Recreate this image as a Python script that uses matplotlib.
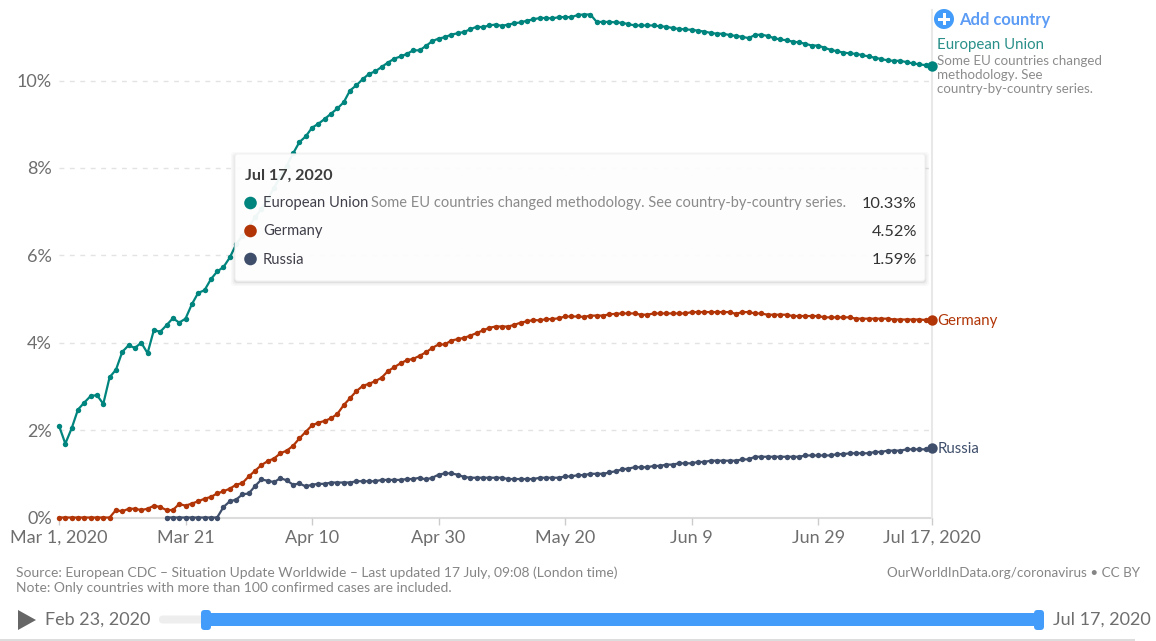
import matplotlib
matplotlib.use("Agg")
import matplotlib.pyplot as plt
from matplotlib.patches import Rectangle, FancyBboxPatch, Circle, Polygon
import pandas as pd

plt.rcParams['font.family'] = ['Lato', 'DejaVu Sans']

# ---------- data ----------
dates = pd.date_range("2020-03-01", "2020-07-17", freq="D")
russia_start = 17

eu = [2.10,1.69,2.04,2.47,2.63,2.78,2.80,2.60,3.21,3.38,
      3.79,3.94,3.88,4.00,3.76,4.29,4.25,4.40,4.56,4.46,
      4.55,4.88,5.14,5.20,5.45,5.63,5.73,5.95,6.25,6.45,
      6.65,6.87,7.06,7.28,7.55,7.80,8.05,8.33,8.59,
      8.72,8.92,9.01,9.12,9.24,9.36,9.50,9.77,9.89,10.03,
      10.15,10.21,10.31,10.41,10.50,10.55,10.61,10.69,10.69,10.79,
      10.90,10.96,10.99,11.05,11.08,11.11,11.17,11.23,11.22,11.26,
      11.28,11.25,11.28,11.31,11.33,11.37,11.40,11.43,11.43,11.42,
      11.45,11.45,11.45,11.50,11.51,11.51,11.34,11.34,11.34,11.33,
      11.32,11.29,11.26,11.26,11.26,11.26,11.24,11.23,11.20,11.18,
      11.17,11.16,11.14,11.12,11.09,11.07,11.07,11.04,11.02,11.00,
      10.97,11.04,11.05,11.02,10.97,10.94,10.92,10.89,10.87,10.84,
      10.80,10.80,10.75,10.70,10.67,10.64,10.62,10.61,10.58,10.55,
      10.52,10.49,10.46,10.45,10.45,10.42,10.39,10.37,10.35,10.33]

germany = [0,0,0,0,0,0,0,0,0,
      0.17,0.14,0.20,0.20,0.17,0.20,0.27,0.24,0.17,0.17,
      0.31,0.27,0.32,0.37,0.43,0.47,0.55,0.60,0.66,0.75,
      0.79,0.94,1.07,1.20,1.29,1.35,1.47,1.53,1.64,1.81,
      1.96,2.11,2.17,2.21,2.27,2.37,2.57,2.73,2.89,3.01,
      3.06,3.12,3.20,3.35,3.44,3.53,3.60,3.63,3.70,3.78,
      3.88,3.96,3.96,4.05,4.08,4.11,4.16,4.22,4.28,4.34,
      4.37,4.37,4.37,4.41,4.46,4.49,4.52,4.51,4.54,4.54,
      4.56,4.60,4.60,4.60,4.59,4.62,4.62,4.62,4.65,4.66,
      4.67,4.67,4.67,4.64,4.64,4.67,4.67,4.67,4.67,4.67,
      4.67,4.70,4.70,4.70,4.70,4.70,4.70,4.70,4.66,4.70,
      4.70,4.67,4.67,4.64,4.64,4.64,4.64,4.61,4.61,4.61,
      4.61,4.61,4.58,4.58,4.58,4.58,4.58,4.55,4.55,4.55,
      4.55,4.55,4.55,4.53,4.53,4.53,4.53,4.53,4.52,4.52]

russia = [0,0,0,0,0,0,0,0,0,
      0.24,0.37,0.41,0.53,0.55,0.72,0.87,0.84,0.81,0.90,
      0.85,0.75,0.78,0.71,0.75,0.77,0.77,0.80,0.80,0.80,
      0.80,0.83,0.83,0.83,0.83,0.86,0.86,0.86,0.86,0.88,
      0.88,0.91,0.87,0.91,0.98,1.01,1.01,0.98,0.93,0.91,
      0.91,0.91,0.91,0.91,0.91,0.88,0.88,0.88,0.88,0.88,
      0.91,0.91,0.91,0.91,0.94,0.94,0.97,0.97,1.00,1.00,
      1.00,1.03,1.06,1.10,1.12,1.15,1.15,1.15,1.18,1.18,
      1.21,1.21,1.24,1.24,1.24,1.27,1.27,1.30,1.30,1.30,
      1.30,1.30,1.33,1.33,1.39,1.39,1.39,1.39,1.39,1.39,
      1.39,1.39,1.42,1.42,1.42,1.42,1.42,1.45,1.45,1.47,
      1.47,1.47,1.47,1.50,1.50,1.53,1.53,1.53,1.56,1.56,
      1.56,1.56,1.59]

y_ticks = [0, 2, 4, 6, 8, 10]
y_labels = ["0%", "2%", "4%", "6%", "8%", "10%"]
x_ticks = ["2020-03-01", "2020-03-21", "2020-04-10", "2020-04-30",
           "2020-05-20", "2020-06-09", "2020-06-29", "2020-07-17"]
x_labels = ["Mar 1, 2020", "Mar 21", "Apr 10", "Apr 30", "May 20", "Jun 9", "Jun 29", "Jul 17, 2020"]

TEAL, RED, NAVY = "#00847e", "#b13507", "#3f4f6b"
GREY, BLUE = "#858585", "#439cf9"
tooltip_rows = [("European Union", "10.33%", TEAL),
                ("Germany", "4.52%", RED),
                ("Russia", "1.59%", NAVY)]

# ---------- figure and plot area ----------
W, H = 1156, 641
fig = plt.figure(figsize=(W / 100, H / 100), dpi=100, facecolor="white")
PX_L, PX_R, PX_0 = 59, 932, 517.5
PX_PER_PCT = 43.7
ax = fig.add_axes([PX_L / W, 1 - PX_0 / H, (PX_R - PX_L) / W, PX_0 / H])
ax.set_xlim(dates[0], dates[-1])
ax.set_ylim(0, PX_0 / PX_PER_PCT)
for s in ax.spines.values():
    s.set_visible(False)
ax.patch.set_alpha(0)

for t in y_ticks[1:]:
    ax.axhline(t, color="#e3e3e3", lw=1, ls=(0, (3.5, 4)), zorder=1)
ax.axhline(0, color="#dcdcdc", lw=1.5, zorder=1, clip_on=False)
ax.axvline(dates[-1], ymin=0, ymax=1 - 10 / PX_0, color="#e8e8e8", lw=1.5, zorder=1, clip_on=False)

ax.set_yticks(y_ticks, y_labels)
ax.set_xticks(pd.to_datetime(x_ticks), x_labels)
ax.tick_params(axis="y", length=0, pad=5, labelsize=13, labelcolor="#6e6e6e")
ax.tick_params(axis="x", length=5, width=1, color="#cccccc", pad=4, labelsize=13, labelcolor="#6e6e6e")

for values, xs, colour in [(eu, dates, TEAL), (germany, dates, RED), (russia, dates[russia_start:], NAVY)]:
    ax.plot(xs, values, color=colour, lw=1.6, marker="o", ms=3.9, mew=0, zorder=3, clip_on=False)
    ax.plot(xs[-1:], values[-1:], color=colour, marker="o", ms=7.5, mew=0, zorder=4, clip_on=False)

# ---------- overlay in pixel coordinates ----------
ov = fig.add_axes([0, 0, 1, 1], facecolor="none")
ov.set_xlim(0, W)
ov.set_ylim(H, 0)
ov.axis("off")

def txt(x, y, s, size=9.5, color=GREY, ha="left", weight="normal", zorder=3):
    return ov.text(x, y, s, fontsize=size, color=color, ha=ha, va="center", weight=weight, zorder=zorder)

# direct labels
ov.add_patch(Circle((944, 19), 10, color=BLUE, lw=0))
ov.add_patch(Rectangle((938, 17.5), 12, 3, color="white", lw=0, zorder=2))
ov.add_patch(Rectangle((942.5, 13), 3, 12, color="white", lw=0, zorder=2))
txt(959, 20.5, "Add country", 11.9, "#5c9cf5", weight="bold")
txt(937, 45, "European Union", 10.8, "#2a9089")
for y, s in zip([61, 75, 89], ["Some EU countries changed", "methodology. See", "country-by-country series."]):
    txt(937, y, s, 9.6, "#8c8c8c")
txt(937.5, 321, "Germany", 10.8, RED)
txt(937.5, 449, "Russia", 10.8, NAVY)

# tooltip
for grow, alpha in [(4, 0.025), (2.5, 0.04), (1, 0.06)]:
    ov.add_patch(FancyBboxPatch((235 - grow, 155 - grow + 1), 690 + 2 * grow, 126 + 2 * grow,
                                boxstyle="round,pad=0,rounding_size=3", fc="black", ec="none", alpha=alpha, zorder=5))
ov.add_patch(FancyBboxPatch((235, 154), 690, 127, boxstyle="round,pad=0,rounding_size=3",
                            fc=(1, 1, 1, 0.94), ec="#f2f2f2", lw=0.8, zorder=6))
txt(245, 176, "Jul 17, 2020", 11.6, "#3d3d3d", weight="bold", zorder=7)
for y, (name, val, colour) in zip([203, 231, 259], tooltip_rows):
    ov.add_patch(Circle((250.5, y), 6.3, color=colour, lw=0, zorder=7))
    txt(263, y + 0.5, name, 10.6, "#3f3f4a", zorder=7)
    txt(917, y + 0.5, val, 11.8, "#333333", ha="right", zorder=7)
txt(371, 203.5, "Some EU countries changed methodology. See country-by-country series.", 10.5, "#8a8a8a", zorder=7)

# footer
txt(16, 573, "Source: European CDC – Situation Update Worldwide – Last updated 17 July, 09:08 (London time)", 10.03)
txt(16, 588, "Note: Only countries with more than 100 confirmed cases are included.", 10.03)
txt(1140, 573, "OurWorldInData.org/coronavirus • CC BY", 9.7, ha="right")

# timeline
ov.add_patch(Polygon([(18, 610), (18, 630), (36, 620)], closed=True, color="#666666", lw=0))
txt(45, 620, "Feb 23, 2020", 13, "#6e6e6e")
ov.add_patch(FancyBboxPatch((159, 615.5), 50, 8, boxstyle="round,pad=0,rounding_size=4", fc="#eeeeee", ec="none"))
ov.add_patch(Rectangle((206, 613), 834, 13, color=BLUE, lw=0))
for hx in (206, 1039):
    ov.add_patch(FancyBboxPatch((hx - 5, 610), 10, 20, boxstyle="round,pad=0,rounding_size=3.5", fc=BLUE, ec="none"))
txt(1151, 620, "Jul 17, 2020", 13, "#6e6e6e", ha="right")
ov.add_patch(Rectangle((0, 639), 1135, 2, color="#dddddd", lw=0))

fig.savefig("out.png", dpi=100)
